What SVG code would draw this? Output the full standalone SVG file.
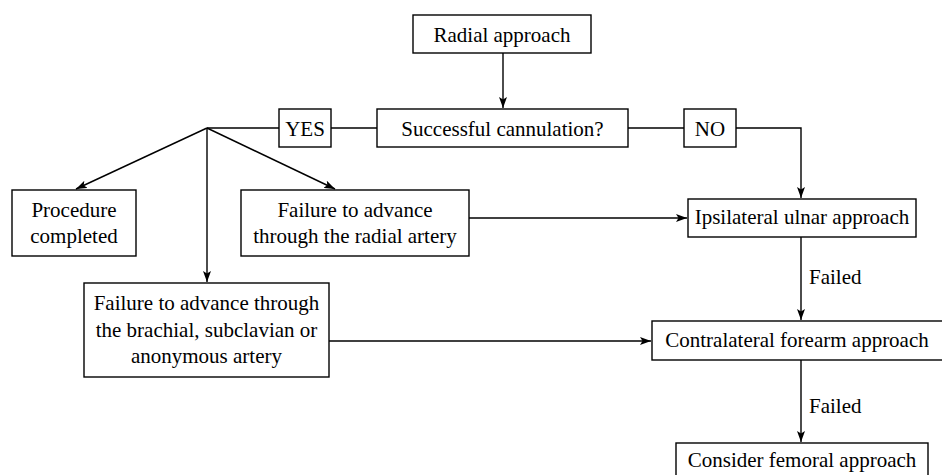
<svg xmlns="http://www.w3.org/2000/svg" width="942" height="475" viewBox="0 0 942 475">
<defs>
<marker id="arr" viewBox="0 0 11 8" refX="11" refY="4" markerWidth="11" markerHeight="8" markerUnits="userSpaceOnUse" orient="auto">
<path d="M0,0 L11,4 L0,8 L2.5,4 z" fill="#000"/>
</marker>
<style>
.box{fill:#fff;stroke:#000;stroke-width:1.4}
.ln{fill:none;stroke:#000;stroke-width:1.4}
.t{font-family:"Liberation Serif","Times New Roman",serif;font-size:21px;fill:#000;text-anchor:middle}
.l{font-family:"Liberation Serif","Times New Roman",serif;font-size:21px;fill:#000}
</style>
</defs>
<rect width="942" height="475" fill="#fff"/>
<g id="connectors">
<line class="ln" x1="503" y1="53" x2="503" y2="108" marker-end="url(#arr)"/>
<line class="ln" x1="331" y1="128" x2="377" y2="128"/>
<line class="ln" x1="207" y1="128" x2="279" y2="128"/>
<line class="ln" x1="628" y1="128" x2="684" y2="128"/>
<polyline class="ln" points="736,128 801,128 801,198" marker-end="url(#arr)"/>
<line class="ln" x1="207" y1="128" x2="76" y2="189" marker-end="url(#arr)"/>
<line class="ln" x1="207" y1="128" x2="335" y2="189" marker-end="url(#arr)"/>
<line class="ln" x1="207" y1="128" x2="207" y2="282" marker-end="url(#arr)"/>
<line class="ln" x1="469" y1="218" x2="687" y2="218" marker-end="url(#arr)"/>
<line class="ln" x1="329" y1="341" x2="651" y2="341" marker-end="url(#arr)"/>
<line class="ln" x1="801" y1="237" x2="801" y2="320" marker-end="url(#arr)"/>
<line class="ln" x1="801" y1="360" x2="801" y2="442" marker-end="url(#arr)"/>
<text class="l" x="809" y="284">Failed</text>
<text class="l" x="809" y="413">Failed</text>
</g>
<g id="radial"><rect class="box" x="413" y="15" width="178" height="38"/><text class="t" x="502" y="42">Radial approach</text></g>
<g id="yes"><rect class="box" x="279" y="109" width="52" height="38"/><text class="t" x="305" y="136">YES</text></g>
<g id="success"><rect class="box" x="377" y="109" width="251" height="38"/><text class="t" x="502.5" y="136">Successful cannulation?</text></g>
<g id="no"><rect class="box" x="684" y="109" width="52" height="38"/><text class="t" x="710" y="136">NO</text></g>
<g id="procedure"><rect class="box" x="12" y="190" width="124" height="66"/><text class="t" x="74" y="217">Procedure</text><text class="t" x="74" y="243">completed</text></g>
<g id="fail-radial"><rect class="box" x="241" y="190" width="228" height="66"/><text class="t" x="355" y="217">Failure to advance</text><text class="t" x="355" y="243">through the radial artery</text></g>
<g id="ulnar"><rect class="box" x="688" y="199" width="228" height="38"/><text class="t" x="802" y="224">Ipsilateral ulnar approach</text></g>
<g id="fail-brachial"><rect class="box" x="84" y="283" width="245" height="94"/><text class="t" x="206.5" y="310">Failure to advance through</text><text class="t" x="206.5" y="337">the brachial, subclavian or</text><text class="t" x="206.5" y="363">anonymous artery</text></g>
<g id="contralateral"><rect class="box" x="652" y="321" width="294" height="39"/><text class="t" x="797" y="347">Contralateral forearm approach</text></g>
<g id="femoral"><rect class="box" x="676" y="443" width="252" height="40"/><text class="t" x="802" y="467">Consider femoral approach</text></g>
</svg>
